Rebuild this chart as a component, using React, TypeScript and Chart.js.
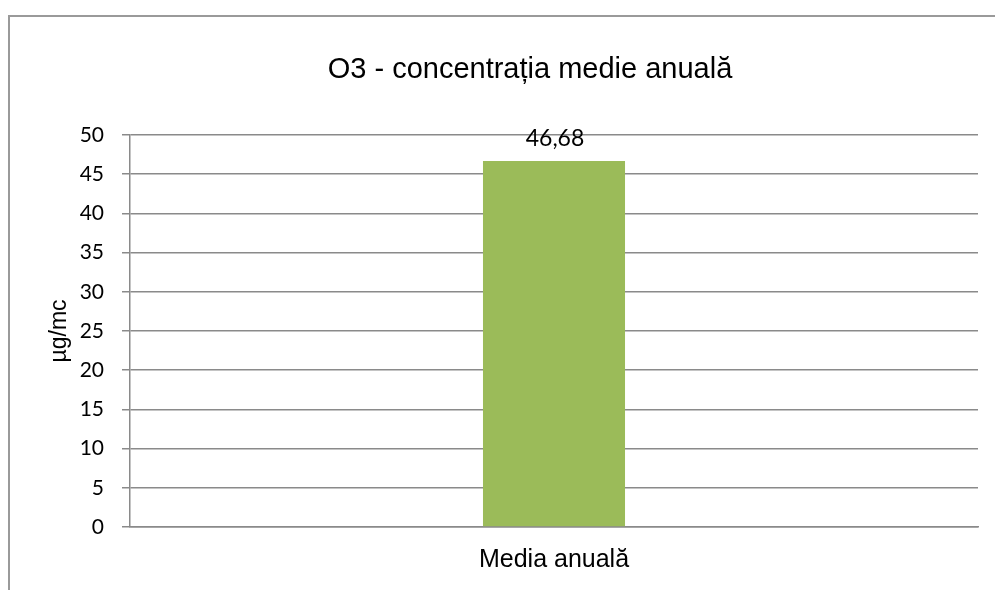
import React, { useEffect, useRef } from "react";
import { Chart, registerables } from "chart.js";

Chart.register(...registerables);

const categories = ["Media anuală"];
const values = [46.68];
const valueLabels = ["46,68"];
const yMin = 0;
const yMax = 50;
const yStep = 5;
const chartTitle = "O3 - concentrația medie anuală";
const yAxisTitle = "µg/mc";

const GRID = "#8a8a8a";
const BAR = "#9bbb59";

const framePlugin = {
  id: "frame",
  beforeDraw(chart: any) {
    const ctx = chart.ctx;
    ctx.save();
    ctx.strokeStyle = "#9a9a9a";
    ctx.lineWidth = 2;
    ctx.beginPath();
    ctx.moveTo(9, chart.height);
    ctx.lineTo(9, 16);
    ctx.lineTo(chart.width, 16);
    ctx.stroke();
    ctx.fillStyle = "#000";
    ctx.font = "29px 'Liberation Sans', Arial";
    ctx.textAlign = "center";
    ctx.textBaseline = "middle";
    ctx.fillText(chartTitle, 530, 70);
    ctx.restore();
  },
};

const labelPlugin = {
  id: "valueLabels",
  afterDatasetsDraw(chart: any) {
    const ctx = chart.ctx;
    const meta = chart.getDatasetMeta(0);
    ctx.save();
    ctx.fillStyle = "#000";
    ctx.font = "23px Lato";
    ctx.textAlign = "center";
    ctx.textBaseline = "alphabetic";
    meta.data.forEach((bar: any, i: number) => {
      ctx.fillText(valueLabels[i], bar.x + 1, bar.y - 15);
    });
    ctx.restore();
  },
};

export default function App() {
  const ref = useRef<HTMLCanvasElement | null>(null);
  useEffect(() => {
    if (!ref.current) return;
    const chart = new Chart(ref.current, {
      type: "bar",
      data: {
        labels: categories,
        datasets: [
          {
            data: values,
            backgroundColor: BAR,
            borderWidth: 0,
            categoryPercentage: 1,
            barPercentage: 0.1675,
          },
        ],
      },
      plugins: [framePlugin, labelPlugin],
      options: {
        responsive: false,
        animation: false,
        layout: { padding: { left: 30, top: 135, right: 17, bottom: 0 }, autoPadding: false },
        plugins: {
          legend: { display: false },
          tooltip: { enabled: false },
          title: { display: false },
        },
        scales: {
          x: {
            grid: { display: false },
            border: { display: true, color: GRID, width: 1.5 },
            ticks: {
              color: "#000",
              font: { family: "'Liberation Sans', Arial", size: 25 },
              padding: 10,
            },
            afterFit: (s: any) => {
              s.height = 63;
            },
          },
          y: {
            min: yMin,
            max: yMax,
            ticks: {
              stepSize: yStep,
              color: "#000",
              font: { family: "Lato", size: 21 },
              padding: 18,
            },
            grid: { color: GRID, lineWidth: 1.5, tickLength: 8, drawTicks: true },
            border: { display: true, color: GRID, width: 1.5 },
            title: {
              display: true,
              text: yAxisTitle,
              color: "#000",
              font: { family: "'Liberation Sans', Arial", size: 23 },
              padding: { top: 16, bottom: 0 },
            },
            afterFit: (s: any) => {
              s.width = 100;
            },
          },
        },
      },
    } as any);
    return () => chart.destroy();
  }, []);
  return (
    <div style={{ position: "fixed", left: 0, top: 0, width: 995, height: 590, background: "#fff" }}>
      <canvas ref={ref} width={995} height={590} style={{ display: "block" }} />
    </div>
  );
}
